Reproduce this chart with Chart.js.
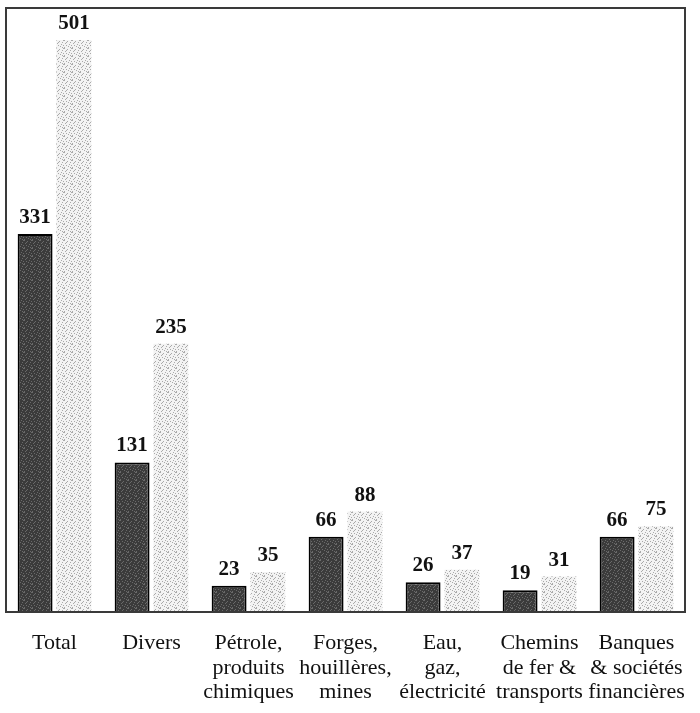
<!DOCTYPE html>
<html lang="fr">
<head>
    <meta charset="UTF-8">
    <title>Total / secteurs</title>
    <script src="https://cdn.jsdelivr.net/npm/chart.js"></script>
    <style>
        * { margin: 0; padding: 0; box-sizing: border-box; }
        body { background: #fff; width: 700px; height: 713px; overflow: hidden; }
        #wrap { width: 700px; height: 713px; }
    </style>
</head>
<body>
    <div id="wrap"><canvas id="chart" width="700" height="713"></canvas></div>

    <script>
        // data
        var categories = [
            ['Total'],
            ['Divers'],
            ['Pétrole,', 'produits', 'chimiques'],
            ['Forges,', 'houillères,', 'mines'],
            ['Eau,', 'gaz,', 'électricité'],
            ['Chemins', 'de fer &', 'transports'],
            ['Banques', '& sociétés', 'financières']
        ];
        var darkValues = [331, 131, 23, 66, 26, 19, 66];
        var lightValues = [501, 235, 35, 88, 37, 31, 75];
        var yMax = 529;

        var serif = "'Liberation Serif', 'DejaVu Serif', serif";

        // stipple textures for the bars
        function stipple(base, dot, spots) {
            var c = document.createElement('canvas');
            c.width = 8; c.height = 8;
            var g = c.getContext('2d');
            g.fillStyle = base;
            g.fillRect(0, 0, 8, 8);
            g.fillStyle = dot;
            spots.forEach(function (p) { g.fillRect(p[0], p[1], 1, 1); });
            return g.createPattern(c, 'repeat');
        }
        var spots = [[0,0],[3,1],[6,2],[1,3],[5,4],[2,5],[7,5],[4,6],[0,7],[6,7],[2,2],[7,0]];
        var darkFill = stipple('#3b3b3b', '#6a6a6a', spots);
        var lightFill = stipple('#f3f3f3', '#aaaaaa', spots);

        // frame around the plot area
        var framePlugin = {
            id: 'frame',
            afterDatasetsDraw: function (chart) {
                var a = chart.chartArea, ctx = chart.ctx;
                ctx.save();
                ctx.strokeStyle = '#3a3a3a';
                ctx.lineWidth = 2;
                ctx.strokeRect(a.left, a.top, a.right - a.left, a.bottom - a.top);
                ctx.restore();
            }
        };

        // value labels above each bar
        var valuePlugin = {
            id: 'values',
            afterDatasetsDraw: function (chart) {
                var ctx = chart.ctx;
                ctx.save();
                ctx.font = 'bold 21px ' + serif;
                ctx.fillStyle = '#111';
                ctx.textAlign = 'center';
                ctx.textBaseline = 'alphabetic';
                chart.data.datasets.forEach(function (ds, i) {
                    chart.getDatasetMeta(i).data.forEach(function (bar, j) {
                        ctx.fillText(ds.data[j], bar.x, bar.y - 11);
                    });
                });
                ctx.restore();
            }
        };

        var ctx = document.getElementById('chart').getContext('2d');
        var chart = new Chart(ctx, {
            type: 'bar',
            data: {
                labels: categories,
                datasets: [{
                    label: 'a',
                    data: darkValues,
                    backgroundColor: darkFill,
                    borderColor: '#000',
                    borderWidth: 2
                }, {
                    label: 'b',
                    data: lightValues,
                    backgroundColor: lightFill,
                    borderWidth: 0
                }]
            },
            options: {
                responsive: false,
                animation: false,
                layout: { padding: { left: 6, right: 15, top: 8, bottom: 0 } },
                plugins: {
                    legend: { display: false },
                    tooltip: { enabled: false }
                },
                scales: {
                    x: {
                        grid: { display: false, drawTicks: false },
                        border: { display: false },
                        afterFit: function (scale) {
                            scale.height = 101;
                            scale.paddingLeft = 0;
                            scale.paddingRight = 0;
                        },
                        ticks: {
                            color: '#111',
                            padding: 19,
                            maxRotation: 0,
                            autoSkip: false,
                            font: { family: serif, size: 22, lineHeight: 1.114 }
                        }
                    },
                    y: {
                        display: false,
                        min: 0,
                        max: yMax
                    }
                }
            },
            plugins: [framePlugin, valuePlugin]
        });
    </script>
</body>
</html>
